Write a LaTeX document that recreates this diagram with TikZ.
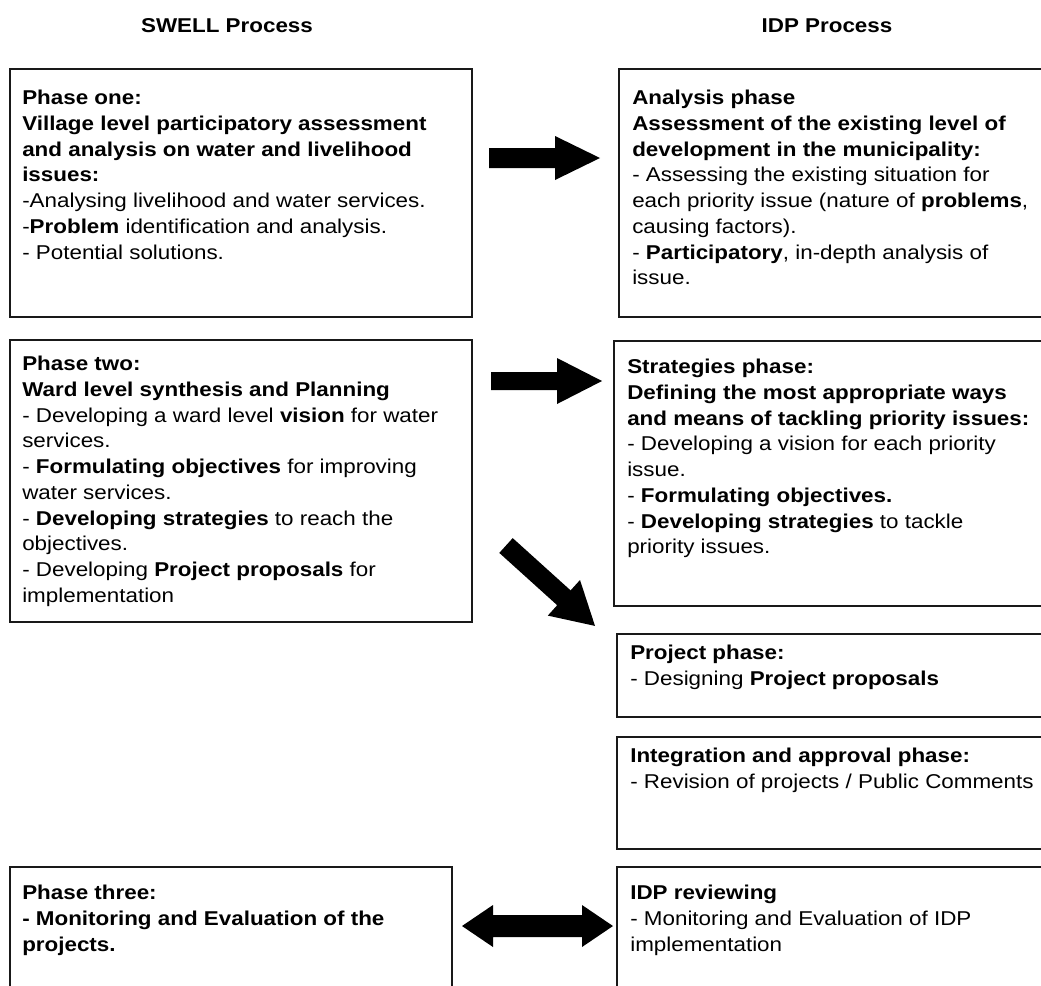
\documentclass[tikz,border=0pt]{standalone}
\usepackage{fontspec}
\setmainfont{Liberation Sans}[FakeStretch=1.12]
\begin{document}
\begin{tikzpicture}[x=0.75pt,y=-0.75pt,
  stagebox/.style={draw=black!90,line width=1.2pt,fill=none},
  stagetext/.style={anchor=north west,inner sep=0pt,align=left,
    font=\fontsize{15}{19.3}\selectfont,text=black},
  headtext/.style={inner sep=0pt,font=\fontsize{15}{19.3}\selectfont\bfseries},
  blockarrow/.style={fill=black,draw=none}]
\useasboundingbox (0,0) rectangle (1041,985);
\clip (0,0) rectangle (1041,985);

% headers
\node[headtext,anchor=north] (hswell) at (227,18) {SWELL Process};
\node[headtext,anchor=north] (hidp) at (827,18) {IDP Process};

% boxes
\draw[stagebox] (10,69) rectangle (472,317);
\coordinate (b1) at (10,69);
\draw[stagebox] (619,69) rectangle (1060,317);
\coordinate (b2) at (619,69);
\draw[stagebox] (10,340) rectangle (472,622);
\coordinate (b3) at (10,340);
\draw[stagebox] (614,341) rectangle (1060,606);
\coordinate (b4) at (614,341);
\draw[stagebox] (617,634) rectangle (1060,717);
\coordinate (b5) at (617,634);
\draw[stagebox] (617,737) rectangle (1060,849);
\coordinate (b6) at (617,737);
\draw[stagebox] (10,867) rectangle (452,1000);
\coordinate (b7) at (10,867);
\draw[stagebox] (617,867) rectangle (1060,1000);
\coordinate (b8) at (617,867);

% texts
\node[stagetext] (t1) at (22,90) {\textbf{Phase one:}\\
\textbf{Village level participatory assessment}\\
\textbf{and analysis on water and livelihood}\\
\textbf{issues:}\\
-Analysing livelihood and water services.\\
-\textbf{Problem} identification and analysis.\\
- Potential solutions.};

\node[stagetext] (t2) at (632,90) {\textbf{Analysis phase}\\
\textbf{Assessment of the existing level of}\\
\textbf{development in the municipality:}\\
- Assessing the existing situation for\\
each priority issue (nature of \textbf{problems},\\
causing factors).\\
- \textbf{Participatory}, in-depth analysis of\\
issue.};

\node[stagetext] (t3) at (22,356) {\textbf{Phase two:}\\
\textbf{Ward level synthesis and Planning}\\
- Developing a ward level \textbf{vision} for water\\
services.\\
- \textbf{Formulating objectives} for improving\\
water services.\\
- \textbf{Developing strategies} to reach the\\
objectives.\\
- Developing \textbf{Project proposals} for\\
implementation};

\node[stagetext] (t4) at (627,359) {\textbf{Strategies phase:}\\
\textbf{Defining the most appropriate ways}\\
\textbf{and means of tackling priority issues:}\\
- Developing a vision for each priority\\
issue.\\
- \textbf{Formulating objectives.}\\
- \textbf{Developing strategies} to tackle\\
priority issues.};

\node[stagetext] (t5) at (630,645) {\textbf{Project phase:}\\
- Designing \textbf{Project proposals}};

\node[stagetext] (t6) at (630,748) {\textbf{Integration and approval phase:}\\
- Revision of projects / Public Comments};

\node[stagetext] (t7) at (22,885) {\textbf{Phase three:}\\
\textbf{- Monitoring and Evaluation of the}\\
\textbf{projects.}};

\node[stagetext] (t8) at (630,885) {\textbf{IDP reviewing}\\
- Monitoring and Evaluation of IDP\\
implementation};

% block arrows
\fill[blockarrow] (489,148) -- (555,148) -- (555,136) -- (600,158) -- (555,180) -- (555,168) -- (489,168) -- cycle;
\fill[blockarrow] (491,372) -- (557,372) -- (557,358) -- (602,381) -- (557,404) -- (557,390) -- (491,390) -- cycle;
\fill[blockarrow] (512.7,538.1) -- (570.6,590.4) -- (580.0,580.0) -- (595.0,625.9) -- (547.8,615.6) -- (557.2,605.2) -- (499.3,552.9) -- cycle;
\fill[blockarrow] (462,926) -- (493,905) -- (493,915) -- (582,915) -- (582,905) -- (613,926) -- (582,947) -- (582,937) -- (493,937) -- (493,947) -- cycle;
\end{tikzpicture}
\end{document}
